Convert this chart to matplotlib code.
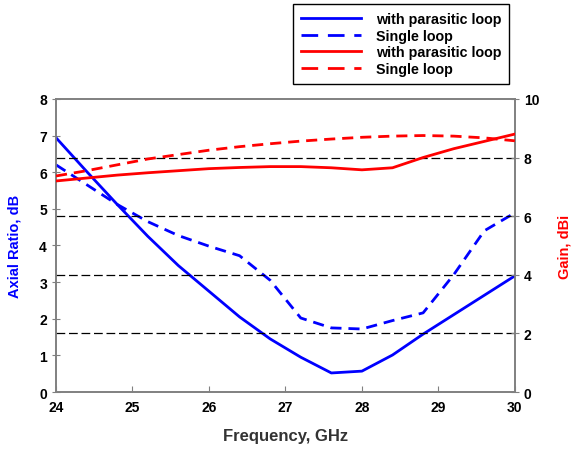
import matplotlib
matplotlib.use("Agg")
import matplotlib.pyplot as plt
from matplotlib.lines import Line2D

plt.rcParams['font.family'] = ['Liberation Sans', 'DejaVu Sans']

freq = [24.0, 24.4, 24.8, 25.2, 25.6, 26.0, 26.4, 26.8, 27.2, 27.6, 28.0, 28.4, 28.8, 29.2, 29.6, 30.0]

# axial ratio, dB (left axis)
ar_parasitic = [6.94, 6.02, 5.12, 4.25, 3.45, 2.75, 2.05, 1.45, 0.95, 0.52, 0.57, 1.01, 1.58, 2.11, 2.64, 3.17]
ar_single = [6.2, 5.66, 5.12, 4.65, 4.27, 3.98, 3.72, 3.05, 2.02, 1.75, 1.72, 1.95, 2.16, 3.2, 4.4, 4.89]

# gain, dBi (right axis)
gain_parasitic = [7.2, 7.3, 7.4, 7.48, 7.55, 7.62, 7.66, 7.69, 7.69, 7.65, 7.58, 7.65, 8.0, 8.3, 8.55, 8.8]
gain_single = [7.37, 7.55, 7.75, 7.95, 8.1, 8.25, 8.37, 8.47, 8.56, 8.63, 8.69, 8.73, 8.75, 8.73, 8.67, 8.57]

legend_labels = ['with parasitic loop', 'Single loop', 'with parasitic loop', 'Single loop']

fig = plt.figure(figsize=(5.74, 4.52), dpi=100)
ax = fig.add_axes([0.0976, 0.1305, 0.7994, 0.6485])
ax2 = ax.twinx()

lw = 2.0
dash = (0, (4, 2.5))
ax.plot(freq, ar_parasitic, color='#0000ff', lw=lw, zorder=3)
ax.plot(freq, ar_single, color='#0000ff', lw=lw, ls=dash, zorder=3)
ax2.plot(freq, gain_parasitic, color='#ff0000', lw=lw, zorder=3)
ax2.plot(freq, gain_single, color='#ff0000', lw=lw, ls=dash, zorder=3)

# dashed gridlines follow the gain axis
for g in [2, 4, 6, 8]:
    ax2.axhline(g, color='black', lw=0.9, ls=(0, (7, 3)), zorder=1)

ax.set_xlim(24, 30)
ax.set_ylim(0, 8)
ax2.set_ylim(0, 10)
ax.set_xticks(range(24, 31))
ax.set_yticks(range(0, 9))
ax2.set_yticks(range(0, 11, 2))

for a in (ax, ax2):
    for s in a.spines.values():
        s.set_color('#808080')
        s.set_linewidth(1.2)

ax.tick_params(axis='x', direction='in', length=4, color='#808080', labelsize=10, pad=6)
ax.tick_params(axis='y', direction='inout', length=6, color='#808080', labelsize=10)
ax2.tick_params(axis='y', direction='inout', length=6, color='#808080', labelsize=10)
for lab in ax.get_xticklabels() + ax.get_yticklabels() + ax2.get_yticklabels():
    lab.set_fontweight('bold')

ax.set_xlabel('Frequency, GHz', fontsize=12, fontweight='bold', color='#333333', labelpad=10)
ax.set_ylabel('Axial Ratio, dB', fontsize=10.5, fontweight='bold', color='#0000ff', labelpad=13)
ax2.set_ylabel('Gain, dBi', fontsize=10.5, fontweight='bold', color='#ff0000', labelpad=13)

leg_dash = (0, (6, 3.5))
handles = [
    Line2D([], [], color='#0000ff', lw=2),
    Line2D([], [], color='#0000ff', lw=2, ls=leg_dash),
    Line2D([], [], color='#ff0000', lw=2),
    Line2D([], [], color='#ff0000', lw=2, ls=leg_dash),
]
leg = fig.legend(handles, legend_labels, loc='upper left', bbox_to_anchor=(0.51, 0.988),
                 frameon=True, fancybox=False, edgecolor='black', framealpha=1,
                 prop={'weight': 'bold', 'size': 10.3}, handlelength=4.2, handletextpad=1.05,
                 labelspacing=0.18, borderpad=0.55, borderaxespad=0)
leg.get_frame().set_linewidth(1.0)

fig.savefig('out.png', dpi=100)
